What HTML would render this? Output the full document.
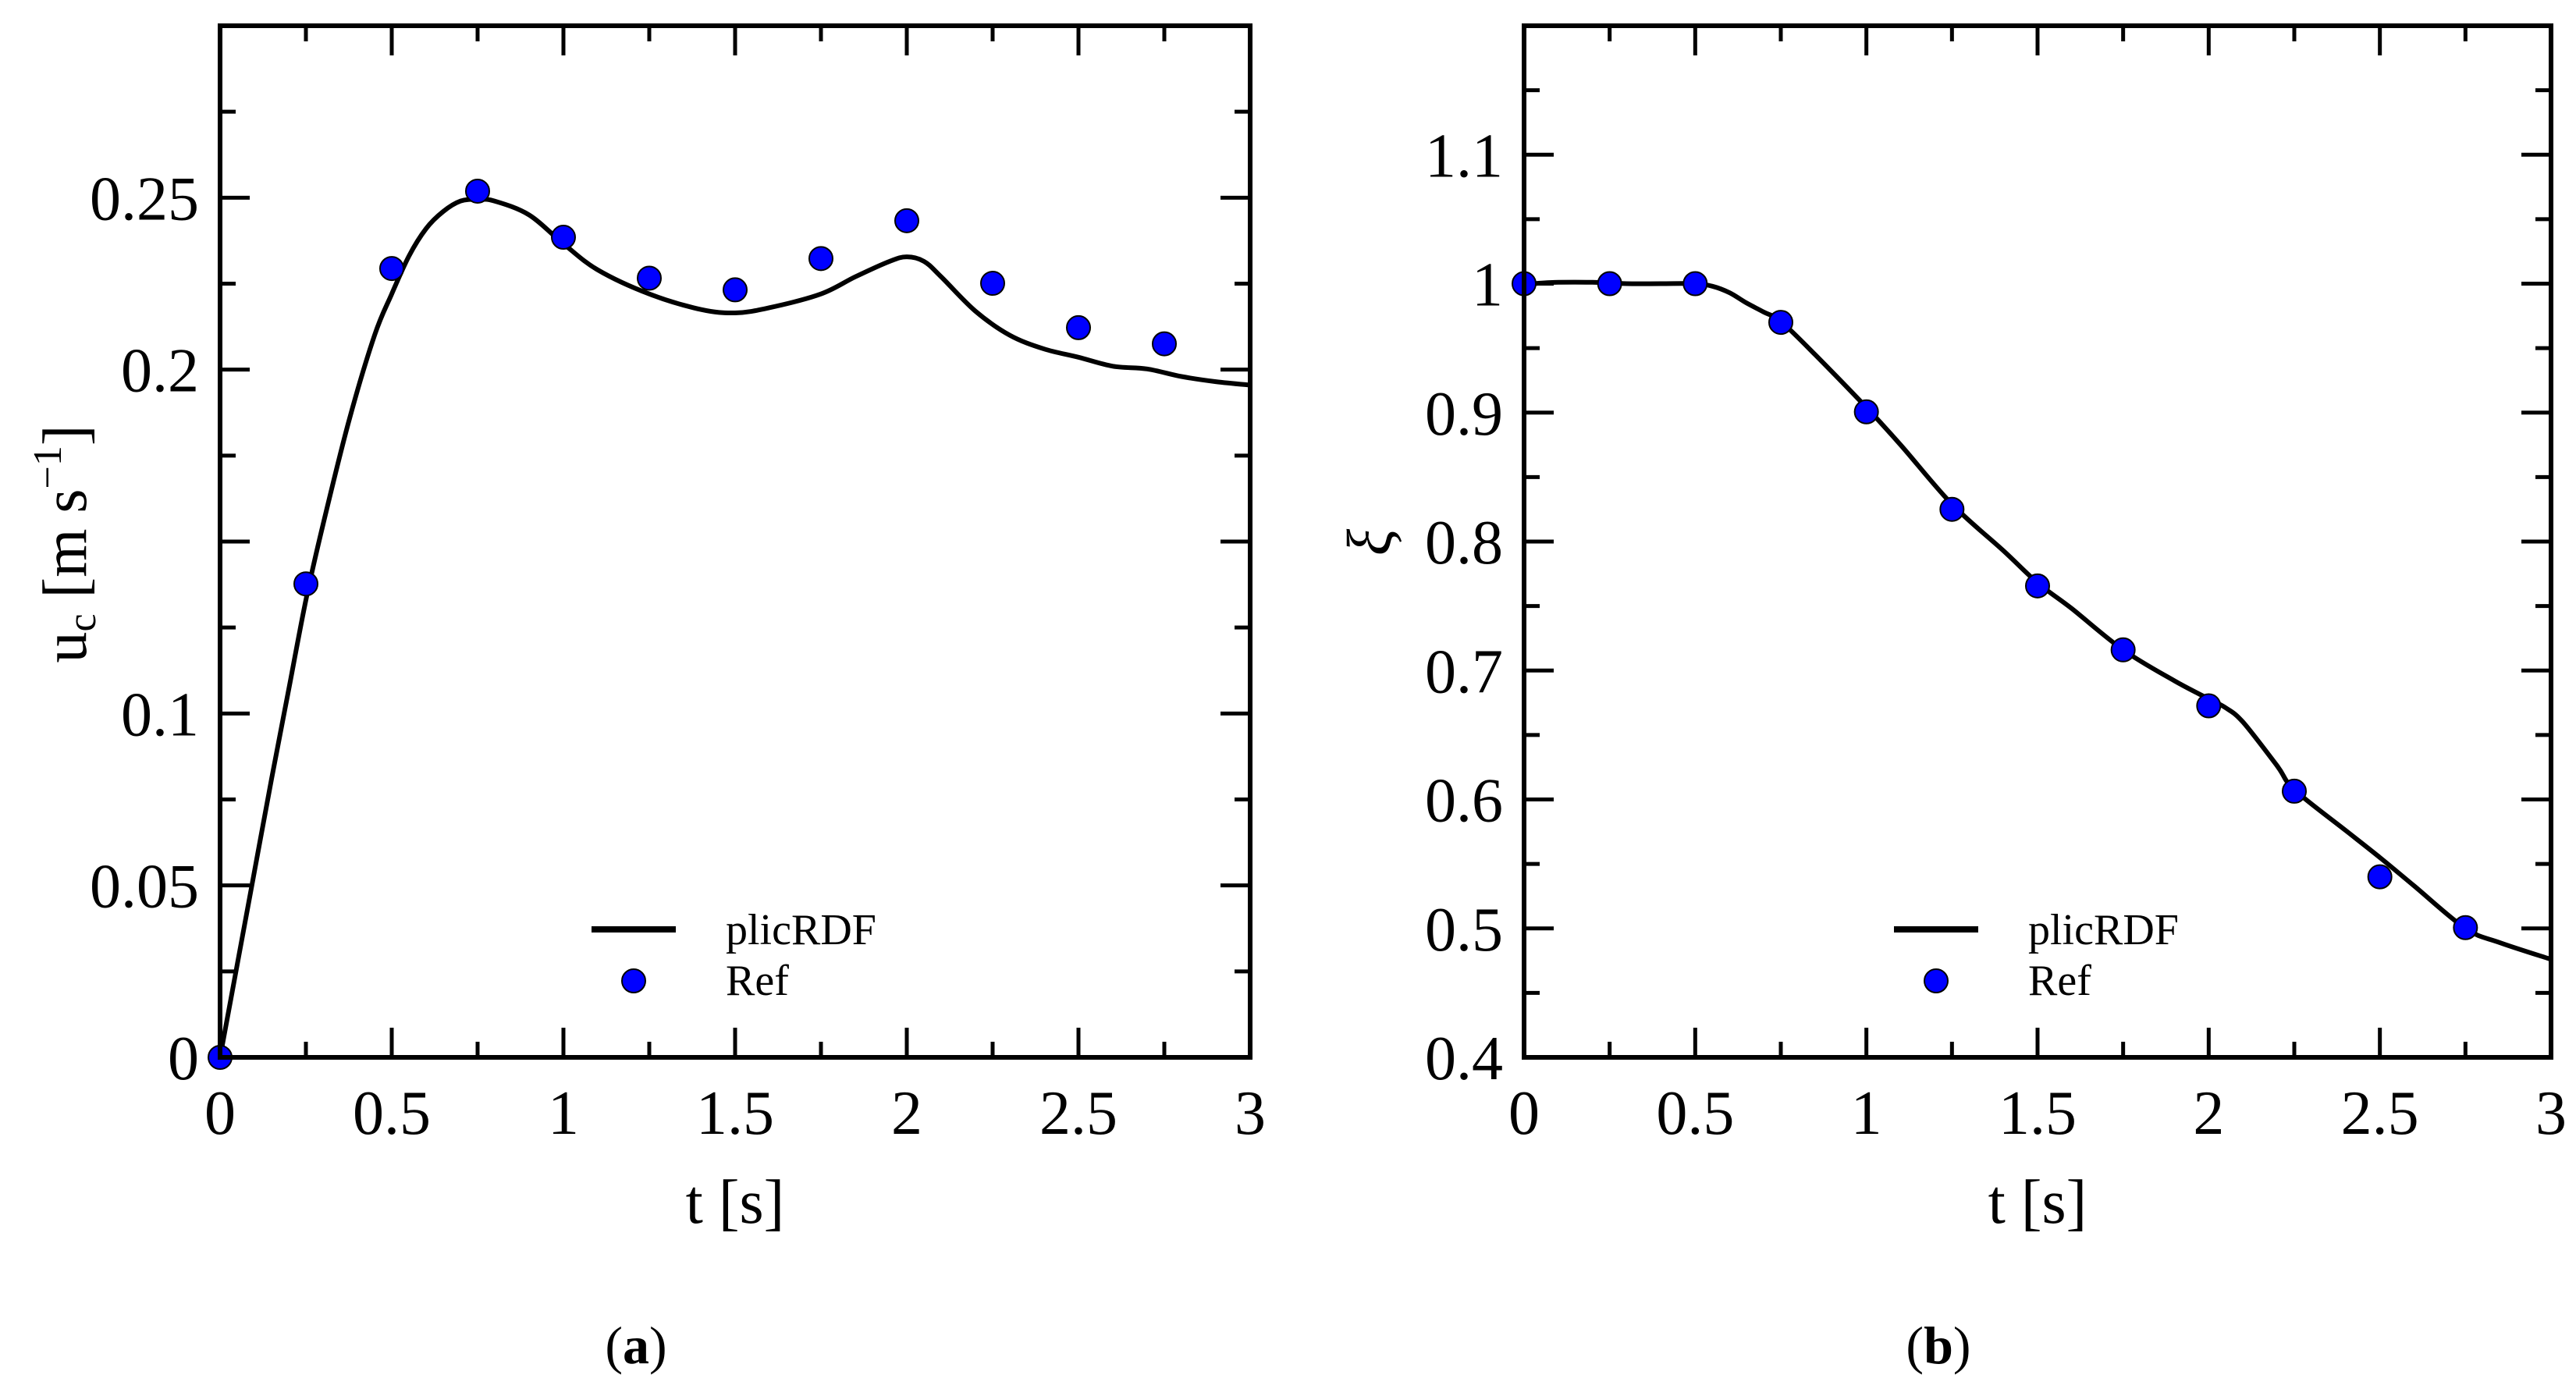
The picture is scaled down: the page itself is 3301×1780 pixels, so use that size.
<!DOCTYPE html>
<html><head><meta charset="utf-8">
<style>
html,body{margin:0;padding:0;background:#fff;}
svg{display:block;font-family:"Liberation Serif",serif;}
</style></head>
<body>
<svg id="fig" width="3301" height="1780" viewBox="0 0 3301 1780" xmlns="http://www.w3.org/2000/svg"></svg>
<script>
// Panel (a) data
const aLineT = [0,0.05,0.1,0.15,0.2,0.25,0.3,0.375,0.45,0.5,0.55,0.6,0.65,0.7,0.75,0.8,0.9,1.0,1.1,1.25,1.4,1.5,1.6,1.75,1.85,1.95,2.0,2.05,2.1,2.2,2.3,2.4,2.5,2.6,2.7,2.8,2.9,3.0];
const aLineU = [0,0.027,0.054,0.081,0.107,0.133,0.155,0.185,0.210,0.222,0.233,0.241,0.246,0.249,0.2495,0.249,0.245,0.2366,0.229,0.222,0.2175,0.2165,0.218,0.222,0.227,0.2315,0.2328,0.2315,0.227,0.217,0.210,0.206,0.2036,0.201,0.2002,0.198,0.1965,0.1955];
const aRefT = [0,0.25,0.5,0.75,1.0,1.25,1.5,1.75,2.0,2.25,2.5,2.75];
const aRefU = [0,0.1377,0.2294,0.2519,0.2385,0.2266,0.2232,0.2323,0.2433,0.2251,0.2122,0.2075];
const aYTicks = [0,0.05,0.1,0.15,0.2,0.25,0.3];
const aYLabels = ["0","0.05","0.1","","0.2","0.25",""];
// Panel (b) data
const bLineT = [0,0,0.02,0.1,0.2,0.3,0.4,0.5,0.55,0.6,0.65,0.7,0.75,0.85,1.0,1.1,1.25,1.4,1.5,1.6,1.75,1.9,2.0,2.05,2.1,2.2,2.25,2.4,2.5,2.6,2.75,2.85,3.0];
const bLineX = [0.4,1.0,1.0,1.001,1.001,1.0,1.0,1.0,0.998,0.993,0.985,0.978,0.9707,0.945,0.904,0.875,0.829,0.793,0.768,0.748,0.716,0.692,0.678,0.671,0.660,0.626,0.6076,0.576,0.555,0.533,0.500,0.489,0.476];
const bRefT = [0,0.25,0.5,0.75,1.0,1.25,1.5,1.75,2.0,2.25,2.5,2.75];
const bRefX = [1.0,1.0,1.0,0.970,0.9006,0.825,0.7656,0.716,0.6726,0.6064,0.540,0.5006];
const bYTicks = [0.4,0.5,0.6,0.7,0.8,0.9,1.0,1.1,1.2];
const bYLabels = ["0.4","0.5","0.6","0.7","0.8","0.9","1","1.1",""];
const xTicks = [0,0.5,1,1.5,2,2.5,3];
const xLabels = ["0","0.5","1","1.5","2","2.5","3"];

const NS="http://www.w3.org/2000/svg";
const svg=document.getElementById('fig');
function mk(tag,attrs,parent){const e=document.createElementNS(NS,tag);for(const k in attrs)e.setAttribute(k,attrs[k]);(parent||svg).appendChild(e);return e;}

function smoothPath(pts){
  let d='M'+pts[0][0].toFixed(1)+' '+pts[0][1].toFixed(1);
  for(let i=0;i<pts.length-1;i++){
    const p1=pts[i],p2=pts[i+1];
    if(Math.abs(p1[0]-p2[0])<0.5){d+=' L'+p2[0].toFixed(1)+' '+p2[1].toFixed(1);continue;}
    let p0=pts[i-1]||p1,p3=pts[i+2]||p2;
    if(Math.abs(p0[0]-p1[0])<0.5)p0=p1;
    const c1=[p1[0]+(p2[0]-p0[0])/6,p1[1]+(p2[1]-p0[1])/6];
    const c2=[p2[0]-(p3[0]-p1[0])/6,p2[1]-(p3[1]-p1[1])/6];
    d+=' C'+c1[0].toFixed(1)+' '+c1[1].toFixed(1)+' '+c2[0].toFixed(1)+' '+c2[1].toFixed(1)+' '+p2[0].toFixed(1)+' '+p2[1].toFixed(1);
  }
  return d;
}

function panel(o){
  const g=mk('g',{});
  
  
  const X=t=>o.x0+(t-0)/3*(o.x1-o.x0);
  const Y=v=>o.y1-(v-o.ymin)/(o.ymax-o.ymin)*(o.y1-o.y0);
  const tk=mk('g',{stroke:'#000','stroke-width':5},g);
  
  
  for(let i=0;i<=12;i++){const t=i*0.25;const L=(i%2==0)?38:20;const x=X(t);
    mk('line',{x1:x,y1:o.y1,x2:x,y2:o.y1-L},tk);mk('line',{x1:x,y1:o.y0,x2:x,y2:o.y0+L},tk);}
  const nMin=(o.ymax-o.ymin)/o.minor;
  for(let i=0;i<=Math.round(nMin);i++){const v=o.ymin+i*o.minor;const L=(i%2==0)?38:20;const y=Y(v);
    mk('line',{x1:o.x0,y1:y,x2:o.x0+L,y2:y},tk);mk('line',{x1:o.x1,y1:y,x2:o.x1-L,y2:y},tk);}
  xTicks.forEach((t,i)=>{const e=mk('text',{x:X(t),y:1453,'font-size':80,'text-anchor':'middle'},g);e.textContent=xLabels[i];
    });
  o.yt.forEach((v,i)=>{if(!o.yl[i])return;const e=mk('text',{x:o.x0-27,y:Y(v)+28,'font-size':80,'text-anchor':'end'},g);e.textContent=o.yl[i];
    });
  const pts=o.lt.map((t,i)=>[X(t),Y(o.lv[i])]);
  const p=mk('path',{d:smoothPath(pts),fill:'none',stroke:'#000','stroke-width':6,'stroke-linejoin':'round'},g);
  
  
  o.rt.forEach((t,i)=>{const c=mk('circle',{cx:X(t),cy:Y(o.rv[i]),r:15,fill:'#0000ff',stroke:'#000','stroke-width':2},g);
    });
  const f=mk('rect',{x:o.x0,y:o.y0,width:o.x1-o.x0,height:o.y1-o.y0,fill:'none',stroke:'#000','stroke-width':6},g);
  
  
  const lg=mk('g',{},g);
  
  
  mk('line',{x1:o.lx,y1:1191,x2:o.lx+108,y2:1191,stroke:'#000','stroke-width':8},lg);
  const t1=mk('text',{x:o.lx+172,y:1210,'font-size':56},lg);t1.textContent='plicRDF';
  mk('circle',{cx:o.lx+54,cy:1257,r:15,fill:'#0000ff',stroke:'#000','stroke-width':2},lg);
  const t2=mk('text',{x:o.lx+172,y:1275,'font-size':56},lg);t2.textContent='Ref';
  const xt=mk('text',{x:(o.x0+o.x1)/2,y:1567,'font-size':80,'text-anchor':'middle'},g);xt.textContent='t [s]';
  
  const cap=mk('text',{x:(o.x0+o.x1)/2-127,y:1747,'font-size':68,'text-anchor':'middle'},g);
  cap.innerHTML='(<tspan font-weight="bold">'+o.cap+'</tspan>)';
  
  return g;
}
panel({name:'panel-a',x0:282,x1:1602,y0:33,y1:1355,ymin:0,ymax:0.3,minor:0.025,yt:aYTicks,yl:aYLabels,lt:aLineT,lv:aLineU,rt:aRefT,rv:aRefU,lx:758,cap:'a'});
panel({name:'panel-b',x0:1953,x1:3269,y0:33,y1:1355,ymin:0.4,ymax:1.2,minor:0.05,yt:bYTicks,yl:bYLabels,lt:bLineT,lv:bLineX,rt:bRefT,rv:bRefX,lx:2427,cap:'b'});

const ya=mk('text',{transform:'translate(110,697) rotate(-90)','font-size':80,'text-anchor':'middle'});
ya.innerHTML='u<tspan font-size="52" dy="12">c</tspan><tspan dy="-12"> [m s</tspan><tspan font-size="52" dy="-32">−1</tspan><tspan dy="32">]</tspan>';


const yb=mk('text',{transform:'translate(1782,695) rotate(-90)','font-size':80,'text-anchor':'middle','font-style':'italic'});
yb.textContent='ξ';


</script>
</body></html>
